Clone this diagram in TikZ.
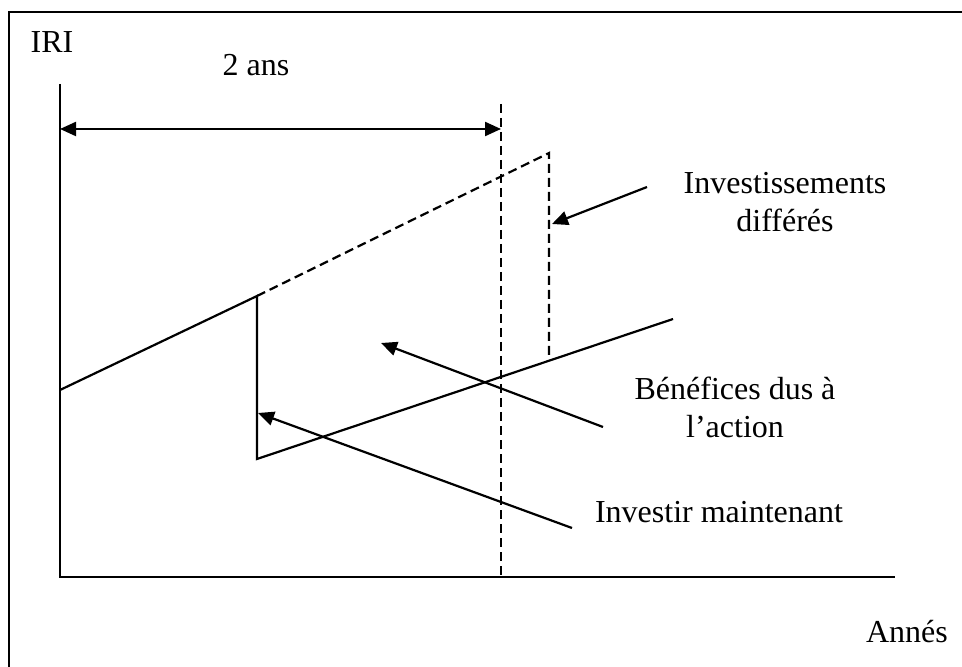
\documentclass[tikz,border=0pt]{standalone}
\usepackage{fontspec}
\setmainfont{Liberation Serif}
\usetikzlibrary{arrows.meta,positioning}

\begin{document}
\begin{tikzpicture}[x=0.5pt, y=-0.5pt,
    lbl/.style={font=\fontsize{16}{19}\selectfont, inner sep=0pt, align=center},
    curve/.style={line width=1.1pt},
    guide/.style={line width=1.1pt, dash pattern=on 4.5pt off 2.5pt},
    pointer/.style={line width=1.1pt, -{Triangle[length=8pt,width=7pt]}}
  ]
    \useasboundingbox (0,0) rectangle (962,667);
    % frame
    \draw[line width=1.4pt] (9,667) -- (9,12) -- (962,12);
    % axes
    \coordinate (origin) at (60,577);
    \coordinate (ytop) at (60,84);
    \coordinate (xend) at (895,577);
    \draw[curve] (ytop) -- (origin) -- (xend);
    \node[lbl, anchor=base] (iri) at (52,53) {IRI};
    \node[lbl, anchor=base] (annes) at (907,642) {Annés};
    % investir maintenant
    \coordinate (start) at (60,390);
    \coordinate (drop) at (257,296);
    \coordinate (low) at (257,459);
    \coordinate (rise) at (673,319);
    \draw[curve] (start) -- (drop) -- (low) -- (rise);
    % investissements differes
    \coordinate (peak) at (549,153);
    \coordinate (cut) at (549,358);
    \draw[guide] (drop) -- (peak) -- (cut);
    % deux ans
    \coordinate (limtop) at (501,104);
    \coordinate (limbot) at (501,577);
    \draw[guide] (limtop) -- (limbot);
    \coordinate (spanl) at (60,129);
    \coordinate (spanr) at (501,129);
    \draw[curve, {Triangle[length=8pt,width=7pt]}-{Triangle[length=8pt,width=7pt]}] (spanl) -- (spanr);
    \node[lbl, anchor=base] (ans) at (256,76) {2 ans};
    % labels and pointers
    \node[lbl] (differes) at (785,202) {Investissements\\différés};
    \node[lbl] (benefices) at (735,407) {Bénéfices dus à\\l’action};
    \node[lbl, anchor=base] (maintenant) at (719,522) {Investir maintenant};
    \coordinate (p1) at (647,187);
    \coordinate (q1) at (552,224);
    \coordinate (p2) at (603,427);
    \coordinate (q2) at (381,343);
    \coordinate (p3) at (572,528);
    \coordinate (q3) at (258,413);
    \draw[pointer] (p1) -- (q1);
    \draw[pointer] (p2) -- (q2);
    \draw[pointer] (p3) -- (q3);
  \end{tikzpicture}
\end{document}
